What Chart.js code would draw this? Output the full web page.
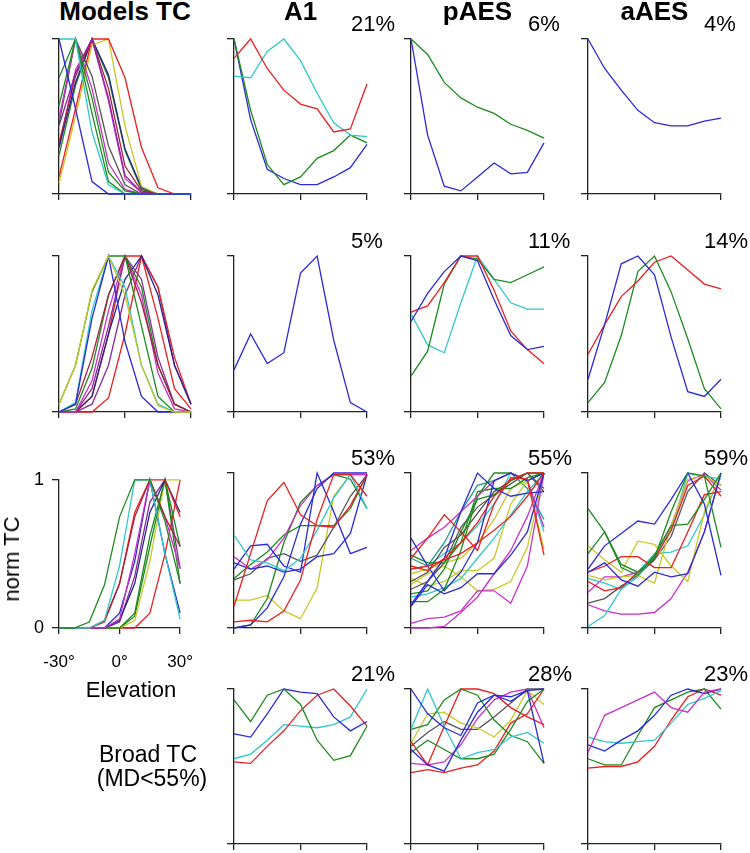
<!DOCTYPE html>
<html>
<head>
<meta charset="utf-8">
<title>Elevation tuning curves</title>
<script src="https://cdn.jsdelivr.net/npm/chart.js"></script>
<style>
  body { margin: 0; background: #fff; font-family: "Liberation Sans", Arial, sans-serif; }
  #fig { position: relative; width: 750px; height: 853px; overflow: hidden; }
  #fig canvas { position: absolute; }
  .lbl { position: absolute; white-space: nowrap; color: #000; line-height: 1; }
  .head { font-weight: bold; font-size: 26px; transform: translateX(-50%); }
  .pct { font-size: 22px; }
  .side { font-size: 22px; transform: translateX(-50%); }
</style>
</head>
<body>
<div id="fig"></div>

<script>
  // elevation sample points and axis ticks
  const elevations = [-30, -22.5, -15, -7.5, 0, 7.5, 15, 22.5, 30];
  const xTickValues = [-30, 0, 30];
  const xTickText = ['-30°', '0°', '30°'];
  const yTickValues = [0, 1];
  const yTickText = ['0', '1'];

  const columnTitles = ['Models TC', 'A1', 'pAES', 'aAES'];
  const a1Pct = ['21%', '5%', '53%', '21%'];
  const paesPct = ['6%', '11%', '55%', '28%'];
  const aaesPct = ['4%', '14%', '59%', '23%'];

  // ---- row 1 (front-preferring) ----
  const modelsR1 = [
    [1, 0.55, 0.08, 0, 0, 0, 0, 0, 0],
    [1, 1, 0.4, 0.06, 0, 0, 0, 0, 0],
    [0.75, 1, 0.52, 0.08, 0, 0, 0, 0, 0],
    [0.57, 1, 0.62, 0.14, 0.02, 0, 0, 0, 0],
    [0.49, 1, 0.68, 0.2, 0.03, 0, 0, 0, 0],
    [0.45, 1, 0.76, 0.31, 0.06, 0, 0, 0, 0],
    [0.44, 0.78, 1, 0.62, 0.12, 0.01, 0, 0, 0],
    [0.33, 0.76, 1, 0.68, 0.18, 0.02, 0, 0, 0],
    [0.11, 0.55, 1, 1, 0.75, 0.3, 0.04, 0, 0],
    [0.07, 0.5, 0.96, 1, 0.44, 0.05, 0, 0, 0],
    [0.3, 0.72, 1, 0.77, 0.29, 0.04, 0, 0, 0],
    [0.25, 0.7, 1, 0.75, 0.28, 0.03, 0, 0, 0],
    [0.3, 0.8, 1, 0.6, 0.1, 0.01, 0, 0, 0]
  ];
  const modelsR1Col = ['B', 'C', 'G', 'G', 'M', 'K', 'P', 'DR', 'R', 'Y', 'N', 'G', 'M'];

  const a1R1 = [
    [0.875, 1, 0.81, 0.67, 0.58, 0.55, 0.40, 0.42, 0.71],
    [0.76, 0.75, 0.92, 1, 0.86, 0.65, 0.46, 0.38, 0.37],
    [1, 0.54, 0.19, 0.06, 0.11, 0.23, 0.28, 0.38, 0.33],
    [1, 0.48, 0.16, 0.10, 0.06, 0.06, 0.11, 0.17, 0.32]
  ];
  const a1R1Col = ['R', 'C', 'G', 'B'];

  const paesR1 = [
    [1, 0.90, 0.72, 0.62, 0.56, 0.52, 0.45, 0.41, 0.36],
    [1, 0.38, 0.05, 0.02, 0.11, 0.20, 0.13, 0.14, 0.33]
  ];
  const paesR1Col = ['G', 'B'];

  const aaesR1 = [
    [1, 0.81, 0.67, 0.54, 0.46, 0.44, 0.44, 0.47, 0.49]
  ];
  const aaesR1Col = ['B'];

  // ---- row 2 (middle-preferring) ----
  const modelsR2 = [
    [0.05, 0.3, 0.78, 1, 0.75, 0.3, 0.04, 0, 0],
    [0.05, 0.3, 0.77, 1, 1, 0.55, 0.1, 0, 0],
    [0, 0.05, 0.6, 1, 0.45, 0.1, 0, 0, 0],
    [0, 0.06, 0.65, 1, 0.8, 0.3, 0.05, 0, 0],
    [0, 0.05, 0.35, 0.75, 1, 0.7, 0.3, 0.05, 0],
    [0, 0.02, 0.28, 0.75, 1, 0.8, 0.3, 0.05, 0],
    [0, 0, 0.2, 0.65, 1, 0.75, 0.25, 0.02, 0],
    [0, 0, 0.15, 0.55, 1, 0.85, 0.35, 0.05, 0],
    [0, 0, 0.1, 0.5, 0.85, 1, 0.75, 0.3, 0.05],
    [0, 0, 0, 0.09, 0.5, 1, 0.8, 0.35, 0.05],
    [0, 0, 0.1, 0.5, 1, 1, 0.6, 0.15, 0.02],
    [0, 0, 0.05, 0.3, 0.75, 1, 0.8, 0.3, 0.05]
  ];
  const modelsR2Col = ['Y', 'G', 'B', 'C', 'DR', 'G', 'M', 'P', 'N', 'R', 'R', 'P'];

  const a1R2 = [
    [0.27, 0.50, 0.31, 0.38, 0.89, 1, 0.46, 0.06, 0]
  ];
  const a1R2Col = ['B'];

  const paesR2 = [
    [0.58, 0.76, 0.90, 1, 0.97, 0.72, 0.49, 0.40, 0.42],
    [0.64, 0.68, 0.83, 1, 1, 0.78, 0.52, 0.40, 0.31],
    [0.23, 0.39, 0.82, 1, 0.98, 0.85, 0.83, 0.88, 0.93],
    [0.63, 0.43, 0.38, 0.70, 1, 0.85, 0.70, 0.66, 0.66]
  ];
  const paesR2Col = ['B', 'R', 'G', 'C'];

  const aaesR2 = [
    [0.21, 0.56, 0.95, 1, 0.88, 0.48, 0.13, 0.10, 0.21],
    [0.37, 0.56, 0.74, 0.84, 0.96, 1, 0.91, 0.82, 0.79],
    [0.06, 0.19, 0.49, 0.90, 1, 0.77, 0.47, 0.15, 0.02]
  ];
  const aaesR2Col = ['B', 'R', 'G'];

  // ---- row 3 (up-preferring) ----
  const modelsR3 = [
    [0, 0, 0.04, 0.29, 0.75, 1, 1, 0.72, 0.3],
    [0, 0, 0, 0.05, 0.42, 1, 1, 0.5, 0.06],
    [0, 0, 0, 0.05, 0.3, 0.75, 1, 0.75, 0.55],
    [0, 0, 0, 0.04, 0.3, 0.78, 1, 1, 0.75],
    [0, 0, 0, 0, 0.06, 0.5, 1, 0.75, 0.4],
    [0, 0, 0, 0, 0.1, 0.45, 1, 0.5, 0.1],
    [0, 0, 0, 0, 0.05, 0.3, 0.78, 1, 0.78],
    [0, 0, 0, 0, 0, 0.1, 0.62, 1, 0.55],
    [0, 0, 0, 0, 0, 0.05, 0.45, 1, 1],
    [0, 0, 0, 0, 0, 0, 0.1, 0.5, 1],
    [0, 0, 0, 0, 0, 0.08, 0.55, 1, 0.3],
    [0, 0, 0, 0, 0.04, 0.35, 0.85, 1, 0.4]
  ];
  const modelsR3Col = ['G', 'C', 'DR', 'R', 'M', 'B', 'N', 'G', 'Y', 'R', 'G', 'P'];

  const a1R3 = [
    [0.14, 0.48, 0.82, 0.94, 0.73, 0.66, 0.65, 0.79, 0.99],
    [0.04, 0.05, 0.04, 0.11, 0.31, 0.70, 0.99, 0.99, 0.85],
    [0.60, 0.44, 0.42, 0.37, 0.45, 0.63, 0.84, 0.99, 0.77],
    [0.38, 0.53, 0.54, 0.40, 0.36, 1, 0.75, 0.48, 0.52],
    [0, 0.02, 0.13, 0.33, 0.67, 0.9, 1, 1, 1],
    [0.42, 0.38, 0.40, 0.36, 0.38, 0.46, 0.48, 0.61, 0.99],
    [0.46, 0.38, 0.44, 0.58, 0.79, 0.92, 0.99, 0.99, 0.99],
    [0.32, 0.41, 0.49, 0.60, 0.66, 0.66, 0.66, 0.77, 0.99],
    [0, 0.02, 0.19, 0.55, 0.81, 0.92, 0.99, 0.96, 0.77],
    [0.31, 0.35, 0.45, 0.48, 0.43, 0.47, 0.65, 0.85, 0.99],
    [0.18, 0.18, 0.21, 0.11, 0.06, 0.26, 0.85, 0.99, 0.99]
  ];
  const a1R3Col = ['R', 'R', 'C', 'B', 'B', 'B', 'M', 'G', 'G', 'K', 'Y'];

  const paesR3 = [
    [0.45, 0.58, 0.73, 0.62, 0.50, 0.80, 0.97, 0.96, 0.47],
    [0.38, 0.40, 0.44, 0.48, 0.55, 0.63, 0.72, 0.85, 1],
    [0.40, 0.37, 0.45, 0.55, 0.68, 0.85, 0.96, 1, 1],
    [0.58, 0.40, 0.24, 0.36, 0.55, 0.95, 1, 0.95, 1],
    [0.15, 0.30, 0.45, 0.75, 1, 0.90, 0.85, 0.87, 0.88],
    [0.14, 0.28, 0.22, 0.26, 0.35, 0.35, 0.47, 0.62, 1],
    [0.03, 0.06, 0.07, 0.11, 0.24, 0.24, 0.16, 0.40, 1],
    [0, 0, 0.01, 0.10, 0.20, 0.35, 0.50, 0.72, 1],
    [0.50, 0.58, 0.65, 0.75, 0.85, 0.95, 1, 0.95, 0.65],
    [0.47, 0.42, 0.42, 0.55, 0.88, 0.90, 0.90, 0.97, 1],
    [0.17, 0.17, 0.25, 0.50, 0.85, 1, 1, 0.95, 1],
    [0.22, 0.24, 0.38, 0.62, 0.83, 0.86, 0.95, 1, 1],
    [0.25, 0.30, 0.42, 0.65, 0.78, 0.86, 0.93, 1, 0.90],
    [0.30, 0.36, 0.52, 0.60, 0.74, 0.88, 0.95, 1, 0.88],
    [0.38, 0.40, 0.48, 0.55, 0.66, 0.80, 1, 0.95, 0.62],
    [0.20, 0.22, 0.26, 0.32, 0.45, 0.58, 0.73, 0.88, 1],
    [0.32, 0.27, 0.30, 0.37, 0.37, 0.45, 0.80, 0.95, 1],
    [0.28, 0.35, 0.40, 0.33, 0.24, 0.25, 0.30, 0.52, 1],
    [0.35, 0.38, 0.42, 0.45, 0.55, 0.70, 0.90, 0.95, 0.51],
    [0.45, 0.40, 0.55, 0.75, 0.92, 0.95, 1, 0.90, 0.70]
  ];
  const paesR3Col = ['R', 'R', 'R', 'B', 'B', 'B', 'M', 'M', 'M', 'G', 'G', 'G', 'K', 'K', 'C', 'C', 'Y', 'Y', 'Y', 'T'];

  const aaesR3 = [
    [0.77, 0.62, 0.41, 0.36, 0.45, 0.75, 1, 0.98, 0.52],
    [0.48, 0.62, 0.39, 0.34, 0.47, 0.66, 0.67, 0.83, 1],
    [0.38, 0.53, 0.61, 0.69, 0.67, 0.83, 1, 0.80, 0.34],
    [0.36, 0.42, 0.31, 0.27, 0.36, 0.33, 0.35, 0.62, 1],
    [0.36, 0.40, 0.46, 0.46, 0.39, 0.39, 0.62, 0.86, 0.88],
    [0.30, 0.24, 0.26, 0.36, 0.45, 0.63, 0.92, 0.98, 0.85],
    [0.53, 0.44, 0.36, 0.56, 0.54, 0.40, 0.30, 0.75, 1],
    [0.34, 0.31, 0.33, 0.34, 0.29, 0.66, 0.96, 0.98, 0.92],
    [0.01, 0.08, 0.25, 0.36, 0.48, 0.49, 0.53, 0.73, 1],
    [0.32, 0.29, 0.25, 0.33, 0.47, 0.63, 1, 0.98, 0.96],
    [0.15, 0.11, 0.09, 0.09, 0.10, 0.19, 0.36, 0.62, 1],
    [0.23, 0.33, 0.33, 0.36, 0.46, 0.66, 0.95, 0.99, 0.89],
    [0.16, 0.19, 0.27, 0.34, 0.44, 0.59, 0.88, 1, 0.92]
  ];
  const aaesR3Col = ['G', 'G', 'B', 'B', 'R', 'R', 'Y', 'Y', 'C', 'C', 'M', 'M', 'K'];

  // ---- row 4 (broad tuning) ----
  const a1R4 = [
    [0.93, 0.79, 0.96, 1, 0.90, 0.67, 0.54, 0.57, 0.76],
    [0.71, 0.69, 0.84, 1, 0.98, 0.97, 0.82, 0.73, 0.79],
    [0.53, 0.52, 0.63, 0.73, 0.86, 0.96, 1, 0.89, 0.76],
    [0.55, 0.58, 0.67, 0.77, 0.76, 0.75, 0.77, 0.82, 1]
  ];
  const a1R4Col = ['G', 'B', 'R', 'C'];

  const paesR4 = [
    [1, 0.84, 0.75, 0.70, 0.91, 0.96, 0.92, 0.99, 1],
    [0.61, 0.51, 0.47, 0.67, 0.85, 0.96, 0.95, 0.99, 0.52],
    [0.74, 1, 0.76, 0.55, 0.59, 0.61, 0.69, 0.72, 0.65],
    [0.74, 0.77, 0.93, 1, 0.96, 0.80, 0.70, 0.66, 0.52],
    [0.59, 0.67, 0.61, 0.55, 0.55, 0.58, 0.74, 0.92, 1],
    [0.66, 0.51, 0.76, 1, 1, 0.97, 0.88, 0.82, 0.77],
    [0.46, 0.48, 0.46, 0.49, 0.51, 0.60, 0.78, 0.84, 1],
    [0.65, 0.84, 0.85, 0.78, 0.75, 0.69, 0.80, 0.99, 0.90],
    [0.63, 0.72, 0.79, 0.74, 0.74, 0.82, 0.91, 1, 1],
    [0.52, 0.51, 0.53, 0.64, 0.81, 0.93, 0.98, 1, 0.75]
  ];
  const paesR4Col = ['B', 'B', 'C', 'G', 'G', 'R', 'R', 'Y', 'K', 'M'];

  const aaesR4 = [
    [0.59, 0.83, 0.88, 0.93, 0.98, 0.88, 0.85, 0.98, 1],
    [0.64, 0.60, 0.67, 0.73, 0.83, 0.96, 1, 0.97, 1],
    [0.69, 0.66, 0.65, 0.66, 0.67, 0.78, 0.90, 0.94, 0.99],
    [0.55, 0.51, 0.51, 0.70, 0.88, 0.93, 0.98, 1, 0.87],
    [0.49, 0.50, 0.50, 0.53, 0.63, 0.80, 0.95, 1, 0.96]
  ];
  const aaesR4Col = ['M', 'B', 'C', 'G', 'R'];

  // ---- look & layout ----
  const palette = {
    B: '#2a2ad8', R: '#e82020', G: '#1f8a1f', C: '#30c8c8', M: '#c832c8',
    Y: '#c8c828', K: '#555555', N: '#25258f', DR: '#a52040', P: '#8a2a9a', T: '#1f9a8a'
  };
  const colX0 = [59, 234, 411, 588];
  const colX1 = [191, 367, 544, 721];
  const rowY0 = [39, 256, 473, 689];
  const rowY1 = [194, 412, 628, 844];
  const pctLeft = [0, 351, 528, 704];

  Chart.defaults.font.family = '"Liberation Sans", Arial, sans-serif';
  Chart.defaults.color = '#000';

  const fig = document.getElementById('fig');

  function addText(text, cls, left, baseline, size) {
    const d = document.createElement('div');
    d.className = 'lbl ' + cls;
    d.textContent = text;
    d.style.left = left + 'px';
    d.style.top = (baseline - 0.85 * size) + 'px';
    fig.appendChild(d);
    return d;
  }

  function drawPanel(row, col, series, colorKeys, withLabels) {
    const padTop = 12, padRight = 20, yW = 40, xH = 50;
    const w = colX1[col] - colX0[col];
    const h = rowY1[row] - rowY0[row];
    const cv = document.createElement('canvas');
    cv.width = yW + w + padRight;
    cv.height = padTop + h + xH;
    cv.style.left = (colX0[col] - yW) + 'px';
    cv.style.top = (rowY0[row] - padTop) + 'px';
    fig.appendChild(cv);

    const axisGrid = (len) => ({
      drawOnChartArea: false, drawTicks: true, tickLength: len,
      color: '#222', lineWidth: 1.3
    });

    new Chart(cv, {
      type: 'line',
      data: {
        datasets: series.map((vals, i) => ({
          data: vals.map((v, j) => ({ x: elevations[j], y: v })),
          borderColor: palette[colorKeys[i]],
          borderWidth: 1.3,
          pointRadius: 0,
          tension: 0,
          fill: false,
          clip: 3
        }))
      },
      options: {
        responsive: false,
        animation: false,
        events: [],
        layout: { padding: { top: padTop, right: padRight, bottom: 0, left: 0 } },
        plugins: { legend: { display: false }, tooltip: { enabled: false } },
        scales: {
          x: {
            type: 'linear', min: -30, max: 30,
            afterBuildTicks: s => { s.ticks = xTickValues.map(v => ({ value: v })); },
            afterFit: s => { s.height = xH; },
            grid: axisGrid(6),
            border: { display: true, color: '#222', width: 1.3 },
            ticks: {
              display: withLabels, padding: 18, font: { size: 17 },
              maxRotation: 0, autoSkip: false,
              callback: v => xTickText[xTickValues.indexOf(v)]
            }
          },
          y: {
            type: 'linear', min: 0, max: 1,
            afterBuildTicks: s => { s.ticks = yTickValues.map(v => ({ value: v })); },
            afterFit: s => { s.width = yW; },
            grid: axisGrid(7),
            border: { display: true, color: '#222', width: 1.3 },
            ticks: {
              display: withLabels, padding: 8, font: { size: 18 },
              callback: v => yTickText[yTickValues.indexOf(v)]
            }
          }
        }
      }
    });
  }

  const panels = [
    [0, 0, modelsR1, modelsR1Col], [0, 1, a1R1, a1R1Col], [0, 2, paesR1, paesR1Col], [0, 3, aaesR1, aaesR1Col],
    [1, 0, modelsR2, modelsR2Col], [1, 1, a1R2, a1R2Col], [1, 2, paesR2, paesR2Col], [1, 3, aaesR2, aaesR2Col],
    [2, 0, modelsR3, modelsR3Col], [2, 1, a1R3, a1R3Col], [2, 2, paesR3, paesR3Col], [2, 3, aaesR3, aaesR3Col],
    [3, 1, a1R4, a1R4Col], [3, 2, paesR4, paesR4Col], [3, 3, aaesR4, aaesR4Col]
  ];
  panels.forEach(p => drawPanel(p[0], p[1], p[2], p[3], p[0] === 2 && p[1] === 0));

  // column titles
  columnTitles.forEach((t, c) => addText(t, 'head', (colX0[c] + colX1[c]) / 2, 20, 26));

  // percentages above each recorded panel
  [a1Pct, paesPct, aaesPct].forEach((list, k) => {
    list.forEach((t, r) => addText(t, 'pct', pctLeft[k + 1], rowY0[r] - 7, 22));
  });

  // side labels
  const yl = addText('norm TC', '', 12, 0, 22);
  yl.style.fontSize = '22px';
  yl.style.top = '559px';
  yl.style.transform = 'translate(-50%, -50%) rotate(-90deg)';
  addText('Elevation', 'side', 131, 698, 22);
  addText('Broad TC', 'side', 148, 763, 23).style.fontSize = '23px';
  addText('(MD<55%)', 'side', 152, 787, 23).style.fontSize = '23px';
</script>
</body>
</html>
